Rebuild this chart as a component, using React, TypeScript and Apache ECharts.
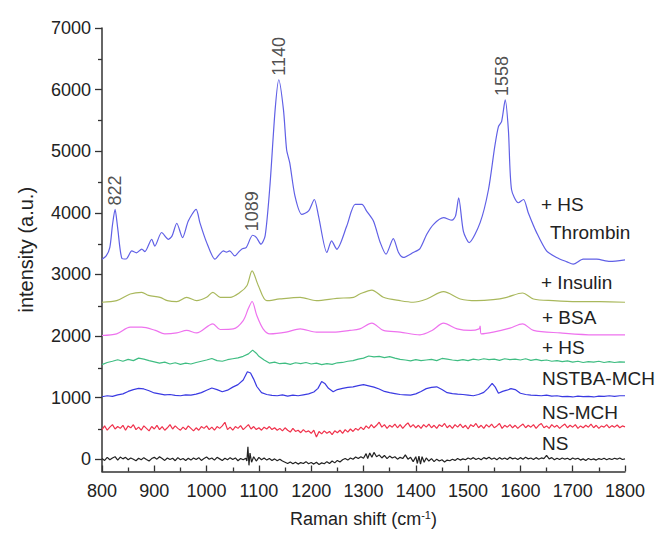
import React, { useEffect, useRef } from "react";
import * as echarts from "echarts";

// ---------- data ----------
const yMajorTicks = [0, 1000, 2000, 3000, 4000, 5000, 6000, 7000];
const yMinorTicks = [500, 1500, 2500, 3500, 4500, 5500, 6500];

const seriesNames = ["+ HS Thrombin", "+ Insulin", "+ BSA", "+ HS", "NSTBA-MCH", "NS-MCH", "NS"];

const thrombin: number[][] = [
  [800, 3247], [808, 3300], [815, 3440], [820, 3800], [825, 4055], [830, 3750], [838, 3260], [846, 3250],
  [857, 3381], [866, 3350], [876, 3410], [882, 3370], [895, 3570], [901, 3460], [914, 3680], [927, 3570],
  [934, 3625], [943, 3830], [954, 3597], [965, 3866], [980, 4055], [987, 3845], [1000, 3520], [1016, 3247],
  [1025, 3330], [1032, 3381], [1038, 3360], [1044, 3381], [1054, 3300], [1060, 3350], [1067, 3410], [1076, 3440], [1088, 3635], [1095, 3600],
  [1104, 3490], [1112, 3630], [1121, 4430], [1131, 5670], [1138, 6160], [1147, 5670], [1153, 5024],
  [1159, 4810], [1169, 4270], [1182, 3974], [1195, 4030], [1206, 4216], [1214, 3947], [1230, 3355],
  [1239, 3543], [1249, 3409], [1268, 3785], [1284, 4136], [1297, 4136], [1306, 4028], [1319, 3866],
  [1332, 3517], [1343, 3328], [1357, 3581], [1367, 3355], [1376, 3275], [1395, 3355], [1408, 3420],
  [1421, 3651], [1434, 3813], [1453, 3920], [1469, 3880], [1476, 3950], [1482, 4244], [1491, 3700],
  [1502, 3517], [1523, 3840], [1539, 4378], [1551, 5077], [1558, 5400], [1564, 5481], [1571, 5832],
  [1577, 5347], [1583, 4378], [1596, 4163], [1606, 4216], [1615, 4001], [1631, 3678], [1650, 3381],
  [1669, 3275], [1689, 3204], [1701, 3166], [1720, 3247], [1746, 3247], [1771, 3210], [1800, 3236],
];

const insulin: number[][] = [
  [800, 2548], [828, 2573], [854, 2682], [876, 2709], [889, 2660], [911, 2628], [925, 2573], [943, 2557],
  [962, 2628], [981, 2573], [1000, 2628], [1012, 2709], [1026, 2628], [1045, 2628], [1064, 2709],
  [1077, 2816], [1087, 3058], [1099, 2816], [1115, 2573], [1140, 2601], [1179, 2628], [1210, 2573],
  [1249, 2612], [1281, 2628], [1293, 2682], [1316, 2746], [1338, 2628], [1370, 2573], [1395, 2548],
  [1421, 2601], [1453, 2719], [1485, 2601], [1516, 2573], [1548, 2590], [1574, 2628], [1604, 2698],
  [1625, 2601], [1663, 2573], [1708, 2557], [1752, 2557], [1800, 2548],
];

const bsa: number[][] = [
  [800, 2008], [828, 2035], [854, 2143], [876, 2143], [902, 2090], [920, 2035], [943, 2050], [962, 2090],
  [981, 2050], [1012, 2197], [1026, 2105], [1051, 2115], [1070, 2250], [1080, 2450], [1087, 2560],
  [1096, 2331], [1108, 2116], [1121, 2035], [1152, 2063], [1179, 2116], [1210, 2063], [1242, 2063],
  [1274, 2090], [1293, 2116], [1316, 2208], [1338, 2090], [1370, 2063], [1408, 2019], [1431, 2090],
  [1453, 2208], [1479, 2116], [1505, 2090], [1521, 2116], [1523, 2160], [1525, 2035], [1548, 2063],
  [1580, 2127], [1604, 2197], [1625, 2090], [1676, 2050], [1740, 2019], [1800, 2019],
];

const hs: number[][] = [
  [800, 1535], [810, 1570], [820, 1590], [830, 1615], [840, 1590], [850, 1620], [860, 1600], [870, 1640],
  [880, 1625], [890, 1600], [900, 1580], [910, 1560], [920, 1575], [930, 1545], [940, 1565], [950, 1540],
  [960, 1560], [970, 1545], [980, 1570], [990, 1590], [1000, 1610], [1010, 1635], [1020, 1600], [1030, 1590],
  [1040, 1615], [1050, 1630], [1060, 1645], [1070, 1670], [1080, 1710], [1088, 1770], [1095, 1720],
  [1100, 1670], [1110, 1610], [1120, 1560], [1130, 1575], [1140, 1550], [1150, 1560], [1160, 1540],
  [1170, 1565], [1180, 1550], [1190, 1570], [1200, 1545], [1210, 1560], [1220, 1535], [1230, 1550],
  [1240, 1540], [1250, 1565], [1260, 1570], [1270, 1590], [1280, 1600], [1290, 1625], [1300, 1640],
  [1310, 1675], [1320, 1660], [1330, 1670], [1340, 1650], [1350, 1665], [1360, 1640], [1370, 1620],
  [1380, 1610], [1390, 1595], [1400, 1615], [1410, 1600], [1420, 1610], [1430, 1620], [1440, 1600],
  [1450, 1635], [1460, 1625], [1470, 1610], [1480, 1600], [1490, 1615], [1500, 1600], [1510, 1625],
  [1520, 1610], [1530, 1630], [1540, 1615], [1550, 1625], [1560, 1605], [1570, 1630], [1580, 1615],
  [1590, 1625], [1600, 1610], [1610, 1630], [1620, 1605], [1630, 1620], [1640, 1600], [1650, 1610],
  [1660, 1590], [1670, 1600], [1680, 1585], [1690, 1595], [1700, 1575], [1710, 1590], [1720, 1570],
  [1730, 1585], [1740, 1575], [1750, 1590], [1760, 1570], [1770, 1585], [1780, 1570], [1790, 1580],
  [1800, 1575],
];

const nstba: number[][] = [
  [800, 1013], [810, 1030], [820, 1020], [830, 1045], [840, 1060], [850, 1100], [860, 1130], [870, 1150],
  [880, 1140], [890, 1110], [900, 1075], [910, 1060], [920, 1045], [930, 1050], [940, 1035], [950, 1030],
  [960, 1045], [970, 1040], [980, 1055], [990, 1080], [1000, 1120], [1010, 1155], [1020, 1130],
  [1030, 1095], [1040, 1120], [1050, 1170], [1060, 1210], [1070, 1285], [1078, 1420], [1084, 1400],
  [1090, 1300], [1096, 1180], [1105, 1080], [1115, 1050], [1125, 1035], [1135, 1030], [1145, 1045],
  [1155, 1025], [1165, 1040], [1175, 1030], [1185, 1045], [1195, 1060], [1205, 1090], [1213, 1150],
  [1220, 1260], [1226, 1230], [1233, 1150], [1242, 1095], [1250, 1130], [1260, 1150], [1270, 1165],
  [1280, 1175], [1290, 1195], [1300, 1210], [1310, 1190], [1320, 1170], [1330, 1140], [1340, 1100],
  [1350, 1080], [1360, 1065], [1370, 1050], [1380, 1045], [1390, 1040], [1400, 1060], [1410, 1100],
  [1420, 1145], [1430, 1165], [1440, 1175], [1450, 1130], [1460, 1080], [1470, 1065], [1480, 1055],
  [1490, 1050], [1500, 1040], [1510, 1030], [1520, 1050], [1530, 1085], [1538, 1150], [1546, 1230],
  [1552, 1170], [1558, 1070], [1566, 1100], [1574, 1120], [1582, 1145], [1590, 1130], [1600, 1070],
  [1610, 1050], [1620, 1040], [1630, 1035], [1640, 1030], [1650, 1040], [1660, 1025], [1670, 1030],
  [1680, 1015], [1690, 1020], [1700, 1010], [1710, 1025], [1720, 1015], [1730, 1020], [1740, 1010],
  [1750, 1025], [1760, 1020], [1770, 1030], [1780, 1020], [1790, 1030], [1800, 1030],
];

const nsmch: number[][] = [
  [800, 480], [805, 540], [810, 470], [815, 520], [820, 560], [825, 490], [830, 530], [835, 500], [840, 550],
  [845, 470], [850, 540], [855, 510], [860, 560], [865, 480], [870, 520], [875, 470], [880, 540], [885, 500],
  [890, 460], [895, 530], [900, 490], [905, 550], [910, 480], [915, 530], [920, 470], [925, 510], [930, 560],
  [935, 490], [940, 540], [945, 500], [950, 470], [955, 520], [960, 480], [965, 540], [970, 500], [975, 460],
  [980, 510], [985, 470], [990, 530], [995, 500], [1000, 540], [1005, 480], [1010, 520], [1015, 470],
  [1020, 530], [1025, 500], [1030, 540], [1035, 600], [1040, 480], [1045, 520], [1050, 470], [1055, 530],
  [1060, 500], [1065, 545], [1070, 480], [1075, 520], [1080, 560], [1085, 490], [1090, 530], [1095, 480],
  [1100, 510], [1105, 470], [1110, 520], [1115, 490], [1120, 530], [1125, 480], [1130, 510], [1135, 470],
  [1140, 500], [1145, 460], [1150, 510], [1155, 470], [1160, 440], [1165, 500], [1170, 450], [1175, 470],
  [1180, 430], [1185, 480], [1190, 440], [1195, 460], [1200, 420], [1205, 470], [1210, 360], [1215, 450],
  [1220, 410], [1225, 460], [1230, 420], [1235, 450], [1240, 400], [1245, 460], [1250, 430], [1255, 470],
  [1260, 420], [1265, 480], [1270, 440], [1275, 490], [1280, 450], [1285, 500], [1290, 470], [1295, 520],
  [1300, 480], [1305, 540], [1310, 500], [1315, 560], [1320, 510], [1325, 550], [1330, 600], [1335, 520],
  [1340, 560], [1345, 500], [1350, 550], [1355, 520], [1360, 570], [1365, 510], [1370, 560], [1375, 500],
  [1380, 550], [1385, 590], [1390, 520], [1395, 560], [1400, 510], [1405, 550], [1410, 500], [1415, 560],
  [1420, 520], [1425, 570], [1430, 510], [1435, 550], [1440, 500], [1445, 560], [1450, 530], [1455, 580],
  [1460, 510], [1465, 550], [1470, 500], [1475, 560], [1480, 520], [1485, 570], [1490, 510], [1495, 550],
  [1500, 490], [1505, 560], [1510, 530], [1515, 580], [1520, 510], [1525, 550], [1530, 500], [1535, 560],
  [1540, 520], [1545, 570], [1550, 510], [1555, 540], [1560, 580], [1565, 500], [1570, 550], [1575, 520],
  [1580, 560], [1585, 510], [1590, 550], [1595, 500], [1600, 540], [1605, 570], [1610, 510], [1615, 550],
  [1620, 520], [1625, 560], [1630, 500], [1635, 550], [1640, 580], [1645, 510], [1650, 540], [1655, 500],
  [1660, 560], [1665, 520], [1670, 550], [1675, 500], [1680, 540], [1685, 570], [1690, 510], [1695, 550],
  [1700, 520], [1705, 560], [1710, 500], [1715, 540], [1720, 510], [1725, 550], [1730, 520], [1735, 570],
  [1740, 510], [1745, 550], [1750, 500], [1755, 540], [1760, 520], [1765, 560], [1770, 510], [1775, 545],
  [1780, 520], [1785, 555], [1790, 510], [1795, 540], [1800, 525],
];

const ns: number[][] = [
  [800, 10], [805, -20], [810, 30], [815, -10], [820, 20], [825, 40], [830, -15], [835, 35], [840, 5],
  [845, 30], [850, -10], [855, 20], [860, 0], [865, -25], [870, 15], [875, -10], [880, 25], [885, -5],
  [890, -30], [895, 10], [900, 30], [905, 0], [910, 40], [915, 10], [920, -20], [925, 20], [930, -5],
  [935, 15], [940, -25], [945, 25], [950, -10], [955, 10], [960, -20], [965, 15], [970, -15], [975, 20],
  [980, -5], [985, 25], [990, -20], [995, 10], [1000, 35], [1005, 0], [1010, 20], [1015, -15], [1020, 30],
  [1025, 5], [1030, -20], [1035, 15], [1040, -10], [1045, 25], [1050, -5], [1055, 20], [1060, -25],
  [1065, 10], [1070, -10], [1075, 15], [1077, -30], [1079, 200], [1081, -100], [1083, 100], [1086, -50],
  [1090, 40], [1095, -30], [1100, 30], [1105, -10], [1110, 20], [1115, -15], [1120, 10], [1125, -20],
  [1130, 5], [1135, -25], [1140, 0], [1145, -30], [1150, -50], [1155, -70], [1160, -45], [1165, -75],
  [1170, -50], [1175, -80], [1180, -55], [1185, -70], [1190, -40], [1195, -75], [1200, -55], [1205, -80],
  [1210, -50], [1215, -85], [1220, -60], [1225, -75], [1230, -40], [1235, -70], [1240, -30], [1245, -60],
  [1250, -20], [1255, -45], [1260, -10], [1265, 10], [1270, -15], [1275, 20], [1280, 0], [1285, 35],
  [1290, 10], [1295, 40], [1300, 15], [1305, 90], [1308, 10], [1312, 100], [1316, 30], [1320, 110],
  [1325, 40], [1330, 70], [1335, 20], [1340, 60], [1345, 10], [1350, 50], [1355, 20], [1360, 40],
  [1365, 0], [1370, 30], [1375, 10], [1380, 70], [1385, 0], [1390, 30], [1395, -40], [1400, 40],
  [1403, -70], [1406, 50], [1409, -80], [1412, 40], [1416, -50], [1420, 20], [1425, -30], [1430, 10],
  [1435, -40], [1440, 0], [1445, -30], [1450, -10], [1455, -45], [1460, -15], [1465, -25], [1470, 0],
  [1475, -20], [1480, 10], [1485, -15], [1490, 5], [1495, -10], [1500, 20], [1505, 0], [1510, 25],
  [1515, -5], [1520, 15], [1525, -10], [1530, 25], [1535, 5], [1540, 30], [1545, 0], [1550, 20],
  [1555, -10], [1560, 25], [1565, 0], [1570, 20], [1575, -5], [1580, 30], [1585, 5], [1590, 20],
  [1595, -5], [1600, 25], [1605, 0], [1610, 30], [1615, 5], [1620, 20], [1625, -5], [1630, 25],
  [1635, 0], [1640, 20], [1645, 10], [1650, 60], [1655, 5], [1660, 25], [1665, -10], [1670, 15],
  [1675, -5], [1680, 20], [1685, 0], [1690, 15], [1695, -10], [1700, 20], [1705, 0], [1710, 15],
  [1715, -15], [1720, 5], [1725, -20], [1730, 10], [1735, -10], [1740, 5], [1745, -15], [1750, 10],
  [1755, -5], [1760, 15], [1765, -10], [1770, 10], [1775, -5], [1780, 15], [1785, 0], [1790, 20],
  [1795, -5], [1800, 5],
];

const peakLabels = ["822", "1089", "1140", "1558"];
const peakX = [825, 1087, 1138, 1565];
const peakY = [4055, 3635, 6160, 5832];

const rightLabels = ["+ HS", "Thrombin", "+ Insulin", "+ BSA", "+ HS", "NSTBA-MCH", "NS-MCH", "NS"];

// ---------- styling ----------
const colors = ["#6060e6", "#a9b85c", "#ee72ee", "#3fbd82", "#3a3ae2", "#f0324c", "#222222"];
const rightLabelPos = [
  [541, 204], [550, 232], [541, 282], [542, 317], [542, 347], [542, 378], [542, 412], [542, 443],
];
const FONT = "'Liberation Sans', Arial, sans-serif";

export default function App() {
  const ref = useRef<HTMLDivElement>(null);
  useEffect(() => {
    if (!ref.current) return;
    const chart = echarts.init(ref.current, undefined, { renderer: "svg" });
    const dataSets = [thrombin, insulin, bsa, hs, nstba, nsmch, ns];
    const smoothing = [0.25, 0.3, 0.3, 0, 0, 0, 0];
    const lineSeries = dataSets.map((d, i) => ({
      name: seriesNames[i],
      type: "line",
      data: d,
      showSymbol: false,
      smooth: smoothing[i],
      lineStyle: { color: colors[i], width: 1.2 },
      z: 10 - i,
    }));
    const axisColor = "#333";
    const gridBox = { left: 102, right: 41, top: 28, bottom: 60, containLabel: false };
    chart.setOption({
      animation: false,
      backgroundColor: "#ffffff",
      grid: [gridBox, { ...gridBox }],
      xAxis: [
        {
          type: "value",
          gridIndex: 0,
          min: 800,
          max: 1800,
          interval: 100,
          name: "Raman shift (cm{sup|-1})",
          nameLocation: "middle",
          nameGap: 38,
          nameTextStyle: {
            fontSize: 18,
            color: "#222",
            fontFamily: FONT,
            rich: { sup: { fontSize: 11, verticalAlign: "top", padding: [0, 0, 8, 0], color: "#222", fontFamily: FONT } },
          },
          axisLine: { show: true, onZero: false, lineStyle: { color: axisColor, width: 1.5 } },
          axisTick: { show: true, inside: true, length: 6, lineStyle: { color: axisColor, width: 1.3 } },
          minorTick: { show: true, splitNumber: 2, length: 4, lineStyle: { color: axisColor, width: 1.3 } },
          axisLabel: { fontSize: 18, color: "#222", margin: 10, fontFamily: FONT, formatter: (v: number) => String(v) },
          splitLine: { show: false },
        },
        {
          type: "value",
          gridIndex: 1,
          min: 800,
          max: 1800,
          axisLine: { show: false },
          axisTick: { show: false },
          axisLabel: { show: false },
          splitLine: { show: false },
        },
      ],
      yAxis: [
        {
          type: "value",
          gridIndex: 0,
          min: -200,
          max: 7000,
          name: "intensity (a.u.)",
          nameLocation: "middle",
          nameGap: 66,
          nameTextStyle: { fontSize: 20, color: "#222", fontFamily: FONT },
          axisLine: { show: true, onZero: false, lineStyle: { color: axisColor, width: 1.5 } },
          axisTick: { show: true, inside: false, length: 7, customValues: yMajorTicks, lineStyle: { color: axisColor, width: 1.3 } },
          axisLabel: {
            fontSize: 18,
            color: "#222",
            margin: 11,
            customValues: yMajorTicks,
            fontFamily: FONT,
            formatter: (v: number) => String(v),
          },
          splitLine: { show: false },
        },
        {
          type: "value",
          gridIndex: 1,
          min: -200,
          max: 7000,
          position: "left",
          axisLine: { show: false },
          axisTick: { show: true, inside: false, length: 4, customValues: yMinorTicks, lineStyle: { color: axisColor, width: 1.3 } },
          axisLabel: { show: true, customValues: yMinorTicks, formatter: () => "" },
          splitLine: { show: false },
        },
      ],
      series: [
        ...lineSeries,
        {
          type: "scatter",
          data: peakX.map((x, i) => [x, peakY[i]]),
          symbolSize: 0,
          z: 20,
          label: {
            show: true,
            position: "top",
            distance: 4,
            rotate: 90,
            align: "left",
            verticalAlign: "middle",
            fontSize: 18,
            color: "#222",
            fontFamily: FONT,
            formatter: (p: any) => peakLabels[p.dataIndex],
          },
        },
      ],
      graphic: rightLabels.map((t, i) => ({
        type: "text",
        x: rightLabelPos[i][0],
        y: rightLabelPos[i][1],
        style: { text: t, fontSize: 19, fill: "#222", fontFamily: FONT, verticalAlign: "middle" },
        z: 30,
      })),
    });
    return () => chart.dispose();
  }, []);
  return (
    <div style={{ position: "absolute", left: 0, top: 0, width: 666, height: 533, background: "#fff" }}>
      <div ref={ref} style={{ width: 666, height: 533 }} />
    </div>
  );
}
